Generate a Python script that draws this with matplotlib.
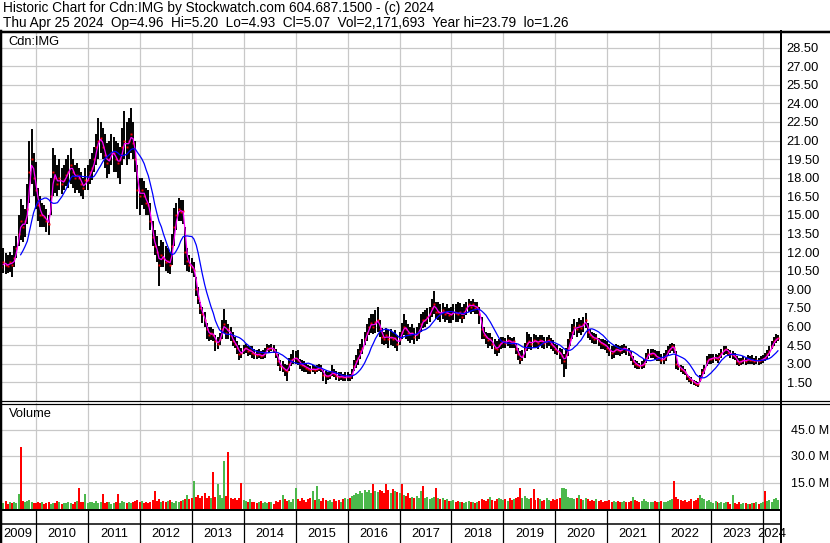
import numpy as np
import pandas as pd
import matplotlib
matplotlib.use('Agg')
from matplotlib import pyplot as plt
from matplotlib import dates as mdates
from datetime import datetime

plt.rcParams['font.family'] = ['Liberation Sans', 'DejaVu Sans']

# one value per half month (1st and 15th), May 2009 .. Apr 2024
periods = pd.date_range('2009-05-01', periods=360, freq='SMS')

close_px = [
    10.8, 11.2, 11.0, 10.9, 11.2, 11.0, 11.5, 12.3, 13.5, 14.5, 14.0, 14.5, 15.5, 18.5, 19.5, 18.0,
    17.0, 15.8, 15.0, 15.0, 14.8, 14.5, 14.3, 16.5, 18.5, 18.0, 17.5, 18.0, 17.5, 17.8, 18.2, 18.5, 19.0, 18.5, 18.0, 18.2, 18.0, 17.5, 17.2, 17.8,
    17.8, 18.5, 18.8, 19.5, 20.5, 21.0, 21.2, 20.5, 19.8, 19.2, 19.5, 20.0, 20.0, 19.5, 19.2, 19.5, 20.5, 21.0, 20.5, 21.0, 21.5, 20.8, 19.5, 17.0,
    16.5, 17.0, 16.5, 16.0, 15.8, 14.5, 13.2, 12.5, 12.0, 11.0, 11.8, 11.5, 11.2, 11.3, 11.0, 12.5, 14.0, 15.0, 15.5, 15.2, 15.3, 12.0, 11.3, 11.0,
    10.8, 10.6, 9.0, 8.3, 7.5, 7.0, 6.5, 5.8, 5.3, 5.5, 5.3, 4.8, 4.6, 5.0, 5.8, 6.2, 5.5, 5.8, 5.3, 4.8, 4.6, 4.3, 3.8, 3.9,
    4.2, 4.3, 4.0, 4.1, 3.9, 3.8, 3.7, 3.8, 3.6, 3.7, 3.9, 4.3, 4.2, 4.3, 4.1, 3.8, 3.2, 2.8, 2.7, 2.5, 2.4, 3.0, 3.3, 3.4,
    3.5, 3.3, 3.0, 2.9, 2.8, 2.7, 2.6, 2.5, 2.6, 2.5, 2.6, 2.7, 2.6, 2.1, 2.0, 2.0, 2.1, 2.3, 2.2, 2.0, 1.9, 2.0, 1.9, 1.9,
    2.0, 1.9, 2.2, 2.8, 3.2, 3.5, 4.0, 4.3, 5.0, 5.5, 6.0, 6.3, 6.0, 6.4, 6.5, 5.8, 5.2, 5.0, 5.3, 5.0, 5.2, 5.0, 5.1, 4.6,
    5.0, 5.6, 6.0, 5.8, 5.5, 5.4, 5.5, 5.2, 5.4, 5.6, 6.2, 6.5, 6.5, 6.8, 7.0, 7.5, 7.8, 7.2, 7.2, 7.0, 7.3, 7.0, 7.2, 6.9,
    7.0, 7.2, 7.1, 7.0, 7.2, 6.8, 7.2, 7.5, 7.8, 7.6, 7.8, 7.5, 7.6, 7.0, 5.8, 5.3, 5.2, 4.9, 5.0, 4.6, 4.3, 4.2, 4.5, 4.7,
    4.8, 4.7, 4.9, 4.8, 4.7, 4.8, 4.2, 3.8, 3.4, 3.6, 4.2, 4.7, 4.8, 4.6, 4.9, 4.8, 4.7, 4.9, 4.8, 4.7, 4.8, 4.9, 4.6, 4.4,
    4.2, 4.0, 3.9, 3.6, 3.2, 3.7, 4.3, 5.0, 5.6, 6.0, 5.8, 6.1, 5.9, 6.2, 6.5, 5.6, 5.3, 5.2, 5.0, 5.1, 4.8, 4.7, 4.6, 4.5,
    4.3, 4.1, 3.9, 4.0, 4.2, 4.1, 4.0, 4.2, 4.3, 4.1, 4.0, 3.6, 3.2, 3.0, 2.9, 2.8, 2.9, 3.0, 3.5, 3.8, 3.8, 3.9, 3.7, 3.5,
    3.5, 3.3, 3.4, 3.6, 4.0, 4.2, 4.4, 4.3, 3.0, 2.8, 2.6, 2.5, 2.3, 2.0, 1.8, 1.7, 1.5, 1.4, 1.35, 1.8, 2.3, 2.6, 3.2, 3.4,
    3.4, 3.5, 3.5, 3.4, 3.6, 3.9, 4.1, 4.2, 3.9, 3.8, 3.7, 3.6, 3.2, 3.1, 3.2, 3.3, 3.2, 3.4, 3.3, 3.3, 3.2, 3.3, 3.2, 3.3,
    3.4, 3.5, 3.8, 4.0, 4.4, 4.8, 5.0, 5.07,
]
high_px = [
    12.0, 12.3, 11.9, 11.8, 12.0, 11.8, 12.5, 13.3, 15.0, 16.3, 15.8, 15.5, 17.5, 21.0, 21.9, 20.0,
    19.3, 17.2, 16.5, 16.0, 15.8, 15.5, 15.0, 18.0, 20.4, 19.8, 19.0, 19.5, 18.8, 19.0, 19.5, 19.8, 20.4, 19.5, 19.0, 19.2, 18.8, 18.5, 18.0, 18.8,
    19.0, 19.5, 20.0, 20.5, 21.5, 22.8, 22.5, 22.0, 21.5, 20.8, 21.0, 21.5, 21.3, 21.0, 20.8, 20.5, 22.0, 23.4, 22.5, 22.8, 23.65, 22.5, 21.0, 19.0,
    18.0, 18.0, 17.7, 17.2, 17.0, 16.0, 14.5, 13.8, 13.3, 12.5, 13.0, 12.8, 12.5, 12.3, 12.0, 13.5, 15.6, 16.0, 16.4, 16.2, 16.2, 14.0, 12.3, 11.8,
    11.5, 11.2, 10.0, 9.2, 8.0, 7.6, 7.2, 6.3, 6.0, 6.0, 5.8, 5.3, 5.2, 5.5, 6.5, 7.4, 6.5, 6.2, 6.0, 5.6, 5.2, 4.8, 4.5, 4.3,
    4.5, 4.6, 4.4, 4.4, 4.4, 4.2, 4.1, 4.2, 4.0, 4.1, 4.3, 4.6, 4.5, 4.6, 4.5, 4.2, 3.8, 3.3, 3.2, 3.0, 2.9, 3.5, 3.8, 4.1,
    4.0, 4.15, 3.4, 3.3, 3.2, 3.1, 2.9, 2.8, 2.9, 2.8, 2.9, 3.0, 2.9, 2.5, 2.4, 2.3, 2.4, 2.9, 2.6, 2.4, 2.3, 2.3, 2.2, 2.3,
    2.3, 2.2, 2.6, 3.3, 3.7, 4.2, 4.6, 5.0, 5.6, 6.2, 6.7, 7.0, 7.0, 7.3, 7.6, 6.5, 5.9, 5.6, 5.9, 5.7, 5.8, 5.6, 5.7, 5.3,
    5.6, 6.3, 7.0, 6.5, 6.2, 6.0, 6.2, 5.9, 6.0, 6.3, 7.0, 7.2, 7.3, 7.5, 7.6, 8.2, 8.85, 8.0, 8.0, 7.8, 7.9, 7.6, 7.8, 7.5,
    7.6, 7.8, 7.8, 8.0, 7.9, 7.6, 7.8, 8.0, 8.2, 8.1, 8.2, 8.0, 8.0, 7.6, 6.8, 6.0, 5.6, 5.5, 5.5, 5.2, 5.0, 4.8, 5.0, 5.2,
    5.2, 5.1, 5.3, 5.2, 5.1, 5.2, 4.7, 4.3, 4.0, 4.1, 4.7, 5.6, 5.4, 5.2, 5.4, 5.3, 5.2, 5.3, 5.3, 5.2, 5.2, 5.3, 5.1, 4.9,
    4.6, 4.5, 4.3, 4.2, 3.8, 4.3, 5.0, 5.6, 6.2, 6.6, 6.4, 6.7, 6.5, 6.8, 7.1, 6.3, 5.8, 5.6, 5.5, 5.4, 5.1, 5.0, 5.0, 4.9,
    4.8, 4.6, 4.4, 4.5, 4.6, 4.5, 4.4, 4.5, 4.6, 4.4, 4.3, 4.0, 3.6, 3.3, 3.2, 3.1, 3.2, 3.4, 3.9, 4.2, 4.2, 4.2, 4.1, 4.0,
    4.0, 3.8, 3.9, 4.1, 4.4, 4.6, 4.7, 4.6, 4.0, 3.0, 2.9, 2.8, 2.6, 2.2, 2.0, 1.9, 1.7, 1.6, 1.5, 2.1, 2.6, 2.9, 3.6, 3.8,
    3.8, 3.8, 3.8, 3.7, 3.9, 4.2, 4.4, 4.4, 4.2, 4.1, 4.0, 3.9, 3.6, 3.5, 3.5, 3.6, 3.5, 3.7, 3.6, 3.7, 3.5, 3.6, 3.5, 3.6,
    3.7, 3.9, 4.1, 4.4, 4.8, 5.2, 5.4, 5.3,
]
low_px = [
    9.5, 10.3, 10.2, 10.3, 10.4, 10.0, 10.8, 11.5, 12.5, 13.0, 12.8, 13.2, 14.3, 16.0, 17.5, 16.5,
    15.5, 14.5, 14.0, 14.0, 14.0, 13.6, 13.4, 15.0, 16.5, 16.8, 16.5, 17.0, 16.7, 17.0, 17.3, 17.2, 17.5, 17.2, 16.8, 17.0, 16.8, 16.5, 16.3, 17.0,
    17.0, 17.5, 17.8, 18.5, 19.0, 19.5, 20.0, 19.5, 18.8, 18.0, 18.3, 19.0, 18.5, 18.5, 18.0, 17.5, 19.0, 19.5, 19.0, 19.5, 20.0, 19.5, 18.5, 15.5,
    15.0, 15.8, 15.5, 15.0, 15.0, 13.8, 12.5, 11.8, 11.2, 9.3, 10.8, 10.8, 10.5, 10.3, 10.2, 11.0, 12.5, 13.8, 14.5, 14.5, 14.3, 11.0, 10.5, 10.4,
    10.3, 10.0, 8.5, 7.8, 7.0, 6.3, 6.0, 5.0, 4.8, 4.9, 4.8, 4.0, 4.2, 4.5, 5.0, 5.5, 5.0, 5.0, 4.8, 4.4, 4.3, 3.8, 3.3, 3.5,
    3.8, 3.9, 3.6, 3.7, 3.5, 3.4, 3.4, 3.5, 3.4, 3.4, 3.5, 4.0, 3.9, 4.0, 3.9, 3.5, 2.8, 2.4, 2.3, 2.0, 1.6, 2.4, 2.8, 3.0,
    3.0, 2.9, 2.6, 2.4, 2.3, 2.3, 2.2, 2.2, 2.3, 2.2, 2.3, 2.4, 2.3, 1.6, 1.4, 1.7, 1.8, 2.0, 1.9, 1.7, 1.6, 1.7, 1.6, 1.6,
    1.6, 1.6, 1.8, 2.4, 2.7, 2.9, 3.4, 3.8, 4.5, 4.8, 5.3, 5.5, 5.4, 5.5, 5.6, 5.2, 4.6, 4.5, 4.6, 4.3, 4.5, 4.4, 4.3, 4.0,
    4.5, 5.0, 5.3, 5.0, 4.8, 4.7, 4.9, 4.6, 4.8, 5.0, 5.6, 5.9, 6.0, 6.2, 6.4, 6.8, 7.0, 6.6, 6.5, 6.4, 6.6, 6.4, 6.5, 6.3,
    6.3, 6.5, 6.4, 6.4, 6.6, 6.3, 6.6, 6.9, 7.2, 7.0, 7.2, 7.0, 7.0, 6.2, 5.0, 5.0, 4.6, 4.3, 4.4, 4.2, 3.8, 3.6, 3.9, 4.2,
    4.3, 4.3, 4.4, 4.3, 4.3, 4.3, 3.8, 3.3, 3.0, 3.2, 3.5, 4.0, 4.2, 4.1, 4.3, 4.3, 4.2, 4.4, 4.3, 4.2, 4.3, 4.4, 4.2, 4.0,
    3.8, 3.7, 3.4, 3.0, 1.9, 2.6, 3.6, 4.4, 5.0, 5.3, 5.2, 5.5, 5.3, 5.6, 5.9, 5.1, 4.9, 4.7, 4.6, 4.6, 4.4, 4.2, 4.2, 4.1,
    3.9, 3.6, 3.4, 3.5, 3.7, 3.7, 3.6, 3.8, 3.9, 3.7, 3.6, 3.2, 2.9, 2.7, 2.6, 2.6, 2.6, 2.7, 3.1, 3.4, 3.5, 3.5, 3.4, 3.2,
    3.2, 3.0, 3.0, 3.2, 3.6, 3.9, 4.0, 3.9, 2.6, 2.5, 2.3, 2.2, 2.1, 1.7, 1.5, 1.4, 1.3, 1.2, 1.16, 1.5, 1.9, 2.2, 2.8, 3.0,
    3.0, 3.1, 3.2, 3.1, 3.3, 3.5, 3.7, 3.8, 3.6, 3.5, 3.4, 3.3, 2.9, 2.8, 2.9, 3.0, 2.9, 3.0, 3.0, 3.0, 2.9, 3.0, 2.9, 3.0,
    3.1, 3.2, 3.4, 3.6, 4.2, 4.4, 4.7, 4.8,
]
# volume, millions of shares
volume_m = [
    4.0, 3.5, 4.5, 3.0, 3.8, 3.2, 4.2, 3.5, 8.7, 35.0, 4.5, 3.8, 4.5, 5.0, 4.2, 3.5,
    3.5, 4.0, 3.2, 3.8, 3.0, 3.5, 4.2, 3.0, 3.6, 3.2, 4.5, 3.8, 3.0, 3.5, 3.2, 4.0, 3.5, 3.0, 3.8, 4.5, 12.0, 3.8, 4.2, 8.5,
    3.5, 4.0, 3.8, 3.2, 4.5, 3.6, 4.0, 8.5, 3.5, 3.8, 4.2, 3.0, 3.6, 4.0, 8.5, 3.5, 4.5, 3.8, 3.2, 4.0, 3.5, 4.2, 4.8, 5.0,
    3.8, 4.5, 3.5, 4.0, 3.2, 4.2, 5.0, 10.0, 4.5, 5.5, 4.0, 4.8, 3.8, 4.5, 5.0, 4.2, 3.5, 4.8, 4.0, 4.5, 5.0, 5.5, 8.0, 5.5,
    6.0, 16.0, 7.0, 8.0, 6.5, 7.5, 9.0, 6.0, 7.5, 6.5, 21.0, 7.0, 14.0, 8.0, 6.0, 27.0, 7.5, 32.0, 6.5, 5.5, 6.0, 5.0, 6.5, 15.0,
    5.0, 4.5, 4.0, 5.5, 3.8, 4.2, 3.5, 4.0, 4.5, 3.2, 4.0, 3.5, 4.2, 3.8, 3.0, 4.5, 4.0, 5.0, 8.0, 5.5, 4.5, 5.0, 4.2, 5.5,
    12.0, 5.5, 4.5, 6.0, 5.0, 4.2, 5.5, 6.5, 10.0, 5.0, 13.0, 5.5, 4.8, 6.0, 5.0, 4.5, 5.2, 4.0, 5.5, 4.5, 5.0, 4.2, 5.5, 6.0,
    5.5, 6.0, 7.5, 8.0, 9.0, 8.5, 10.0, 9.0, 11.0, 9.5, 10.5, 9.0, 14.0, 10.0, 9.5, 11.0, 10.0, 9.0, 14.0, 10.5, 9.0, 11.5, 10.0, 9.5,
    9.0, 14.0, 8.0, 7.5, 9.0, 6.5, 7.0, 6.0, 7.5, 6.5, 10.0, 13.0, 6.0, 7.0, 5.5, 6.5, 7.0, 12.0, 6.0, 5.5, 6.5, 5.0, 5.5, 4.8,
    4.5, 5.0, 4.0, 4.5, 3.8, 4.2, 3.5, 4.0, 4.5, 3.8, 4.2, 3.5, 4.0, 4.8, 5.5, 5.0, 4.5, 5.5, 7.0, 5.0, 4.5, 5.5, 6.0, 5.5,
    5.0, 5.5, 4.5, 6.0, 5.0, 5.5, 6.5, 7.0, 12.0, 6.0, 7.5, 6.5, 5.5, 6.0, 11.5, 5.0, 6.0, 5.5, 4.8, 5.2, 6.0, 5.0, 4.5, 5.5,
    5.0, 5.5, 6.0, 12.0, 12.0, 11.5, 7.0, 6.5, 6.0, 5.5, 6.5, 8.0, 5.5, 5.0, 6.0, 5.5, 4.5, 5.0, 4.8, 5.5, 4.5, 5.0, 4.2, 4.8,
    4.5, 5.0, 4.2, 4.8, 4.0, 4.5, 3.8, 4.2, 4.5, 3.8, 4.0, 4.5, 7.0, 5.0, 4.5, 4.0, 4.8, 5.5, 4.5, 4.0, 4.2, 3.8, 4.5, 4.0,
    4.0, 4.5, 3.8, 4.2, 4.5, 5.0, 5.5, 16.0, 7.0, 5.5, 5.0, 4.5, 5.0, 4.2, 4.8, 5.5, 4.5, 5.0, 6.0, 8.0, 6.5, 5.5, 4.5, 5.0,
    4.0, 3.5, 4.5, 3.8, 3.2, 4.0, 3.5, 4.2, 3.8, 3.0, 8.0, 3.5, 3.0, 3.8, 2.8, 3.2, 3.5, 3.0, 2.8, 3.5, 3.2, 3.8, 3.0, 3.5,
    4.0, 10.0, 4.5, 5.0, 4.2, 5.5, 6.0, 5.0,
]
# half months whose heavy-volume day closed down / up
red_days = [9, 36, 47, 54, 71, 94, 98, 105, 111, 172, 178, 185, 195, 201, 240, 246, 311, 353]
green_days = [8, 39, 86, 89, 100, 103, 130, 136, 144, 146, 194, 226, 259, 260, 261, 267, 292, 323, 338]

price_ticks = np.arange(1.5, 28.6, 1.5)
volume_ticks = [15, 30, 45]
years = list(range(2009, 2025))

header_1 = 'Historic Chart for Cdn:IMG by Stockwatch.com 604.687.1500 - (c) 2024'
header_2 = 'Thu Apr 25 2024  Op=4.96  Hi=5.20  Lo=4.93  Cl=5.07  Vol=2,171,693  Year hi=23.79  lo=1.26'

W, H = 830, 543
GRID = '#c8c8c8'
FS = 9.3
FS_HEAD = 9.8


def box(x0, y0, x1, y1):
    # pixel box -> figure fraction
    return [x0 / W, 1 - y1 / H, (x1 - x0) / W, (y1 - y0) / H]


def plain(ax, xlim, starts):
    for s in ax.spines.values():
        s.set_visible(False)
    ax.set_xlim(xlim)
    ax.set_xticks(starts)
    ax.tick_params(axis='x', length=0, labelbottom=False)


if __name__ == "__main__":
    xs = mdates.date2num(periods.to_pydatetime())
    starts = mdates.date2num([datetime(y, 1, 1) for y in years])
    t10, t24 = starts[1], starts[-1]
    ppd = (763 - 36) / (t24 - t10)
    xlim = (t10 - 36 / ppd, t10 + (781 - 36) / ppd)
    starts_in = [s for s in starts if xlim[0] < s < xlim[1]]

    close = pd.Series(close_px)
    ma_short = close.rolling(2).mean()
    ma_long = close.rolling(10).mean()
    up = np.diff(close_px, prepend=close_px[0]) >= 0
    up[red_days] = False
    up[green_days] = True
    vol_cols = np.where(up, '#4cb84c', '#ff0000')

    fig = plt.figure(figsize=(W / 100, H / 100), dpi=100)

    # price panel
    ax_p = fig.add_axes(box(0, 33, 781, 401))
    plain(ax_p, xlim, starts_in)
    ax_p.set_ylim(0, 29.67)
    ax_p.set_yticks(price_ticks)
    ax_p.set_yticklabels(['%.2f' % v for v in price_ticks])
    ax_p.yaxis.tick_right()
    ax_p.tick_params(axis='y', length=0, pad=4, labelsize=FS)
    ax_p.grid(True, color=GRID, lw=0.9)
    ax_p.set_axisbelow(True)
    ax_p.vlines(xs, low_px, high_px, color='black', lw=1.4, zorder=2)
    ax_p.plot(xs, close_px, ls='none', marker='s', ms=1.4, mew=0, color='red', zorder=3)
    ax_p.plot(xs, ma_short, color='#ff00ff', lw=0.9, zorder=4)
    ax_p.plot(xs, ma_long, color='#0000ff', lw=0.9, zorder=5)
    ax_p.text(0.011, 0.975, 'Cdn:IMG', transform=ax_p.transAxes, fontsize=FS,
              va='center', ha='left')

    # volume panel
    ax_v = fig.add_axes(box(0, 403, 781, 509))
    plain(ax_v, xlim, starts_in)
    ax_v.set_ylim(0, 60)
    ax_v.set_yticks(volume_ticks)
    ax_v.set_yticklabels(['%.1f M' % v for v in volume_ticks])
    ax_v.yaxis.tick_right()
    ax_v.tick_params(axis='y', length=0, pad=7, labelsize=9)
    ax_v.grid(True, color=GRID, lw=0.9)
    ax_v.set_axisbelow(True)
    ax_v.bar(xs, volume_m, width=14, color=vol_cols, lw=0, zorder=2)
    ax_v.text(0.011, 0.9, 'Volume', transform=ax_v.transAxes, fontsize=FS,
              va='center', ha='left')

    # date strip and year labels
    ax_d = fig.add_axes(box(0, 509, 781, 543))
    plain(ax_d, xlim, starts_in)
    ax_d.set_ylim(0, 1)
    ax_d.set_yticks([])
    ax_d.vlines(starts_in, 0, 1, color='black', lw=0.9)
    ax_d.axhline(0.56, color='black', lw=1.1)
    edges = [xlim[0]] + starts_in + [xlim[1]]
    for y, a, b in zip(years, edges[:-1], edges[1:]):
        ax_d.text((a + b) / 2, 0.26, str(y), ha='center', va='center', fontsize=FS)

    # frame lines and header, in pixels
    ov = fig.add_axes([0, 0, 1, 1])
    ov.set_xlim(0, W)
    ov.set_ylim(H, 0)
    ov.axis('off')
    ov.patch.set_alpha(0)
    k = 0.72
    ov.plot([0, W], [32, 32], color='black', lw=2.5 * k)
    ov.plot([1, 1], [31, H], color='black', lw=2.5 * k)
    ov.plot([781, 781], [31, H], color='black', lw=2 * k)
    ov.plot([0, W], [401, 401], color='black', lw=1.2 * k)
    ov.plot([0, W], [403.5, 403.5], color='black', lw=1.2 * k)
    ov.plot([0, 781], [509.5, 509.5], color='black', lw=2 * k)
    ov.text(3, 8, header_1, fontsize=FS_HEAD, va='center', ha='left')
    ov.text(3, 22.5, header_2, fontsize=FS_HEAD, va='center', ha='left')

    fig.savefig('out.png', dpi=100)
